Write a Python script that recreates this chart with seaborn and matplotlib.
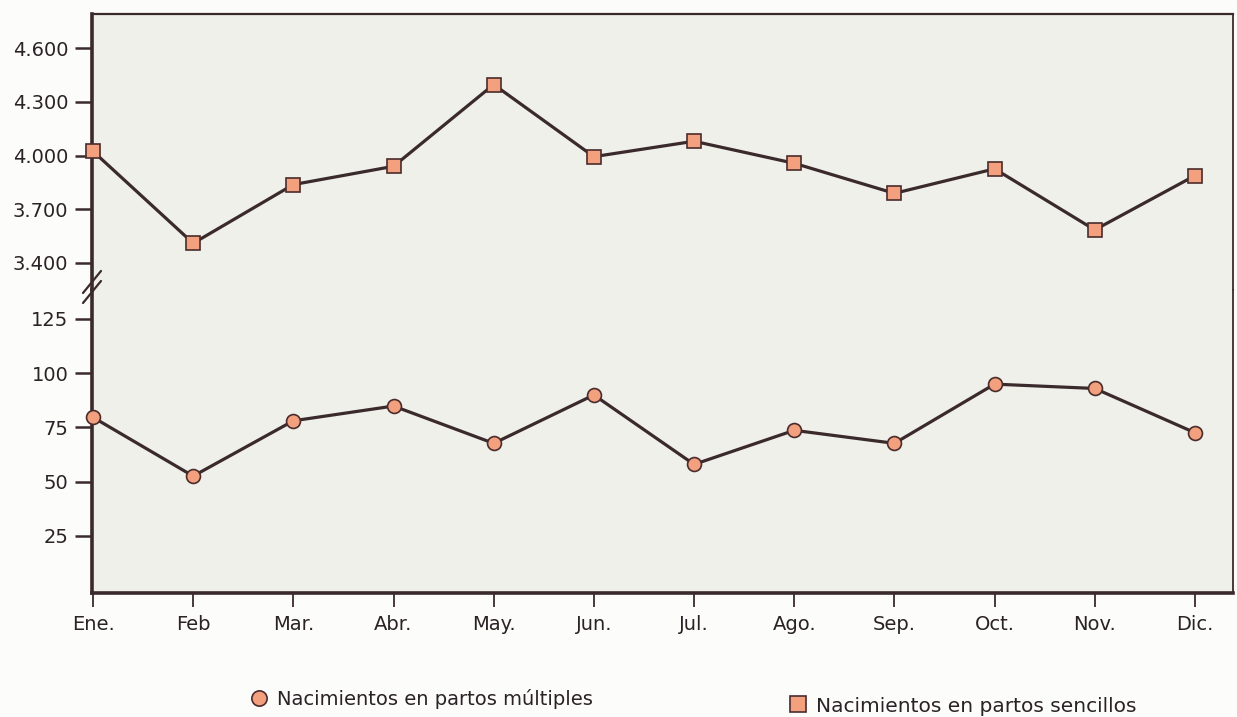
import matplotlib
matplotlib.use("Agg")
import matplotlib.pyplot as plt
from matplotlib.lines import Line2D
import seaborn as sns
import pandas as pd
import numpy as np

months = ["Ene.", "Feb", "Mar.", "Abr.", "May.", "Jun.", "Jul.", "Ago.", "Sep.", "Oct.", "Nov.", "Dic."]
sencillos = [4024, 3510, 3838, 3940, 4397, 3994, 4080, 3957, 3789, 3926, 3585, 3888]
multiples = [79.6, 52.5, 78.0, 84.8, 67.6, 89.9, 57.9, 73.6, 67.6, 94.9, 92.9, 72.5]
upper_ticks = [3400, 3700, 4000, 4300, 4600]
upper_labels = ["3.400", "3.700", "4.000", "4.300", "4.600"]
lower_ticks = [25, 50, 75, 100, 125]
lower_labels = ["25", "50", "75", "100", "125"]
legend_multiples = "Nacimientos en partos múltiples"
legend_sencillos = "Nacimientos en partos sencillos"

sns.set_theme(style="white")
plt.rcParams['font.family'] = ['DejaVu Sans']

LINE = "#3b2a2c"
FILL = "#f2a07e"
BG = "#f0f0eb"
TXT = "#2a2226"

df = pd.DataFrame({"x": np.arange(len(months)), "mes": months,
                   "sencillos": sencillos, "multiples": multiples})

W, H = 1237, 717
fig = plt.figure(figsize=(W / 100, H / 100), dpi=100)
fig.patch.set_facecolor("#fcfcfa")

left, right = 92 / W, 1233 / W
top_px, break_px, bot_px = 14, 290, 593
ax_u = fig.add_axes([left, 1 - break_px / H, right - left, (break_px - top_px) / H])
ax_l = fig.add_axes([left, 1 - bot_px / H, right - left, (bot_px - break_px) / H])

for ax in (ax_u, ax_l):
    ax.set_facecolor(BG)
    ax.set_xlim(-0.01, 11.38)

sns.lineplot(data=df, x="x", y="sencillos", ax=ax_u, color=LINE, linewidth=2.3,
             marker="s", markersize=9.5, markerfacecolor=FILL, markeredgecolor="#4a2c2c",
             markeredgewidth=1.2, clip_on=False, zorder=5)
sns.lineplot(data=df, x="x", y="multiples", ax=ax_l, color=LINE, linewidth=2.3,
             marker="o", markersize=10, markerfacecolor=FILL, markeredgecolor="#4a2c2c",
             markeredgewidth=1.2, clip_on=False, zorder=5)

ax_u.set_ylim(3249, 4791)
ax_l.set_ylim(-1.4, 138.3)

ax_u.set_yticks(upper_ticks)
ax_u.set_yticklabels(upper_labels)
ax_l.set_yticks(lower_ticks)
ax_l.set_yticklabels(lower_labels)

ax_u.set_xticks([])
ax_l.set_xticks(df["x"])
ax_l.set_xticklabels(months)

for ax in (ax_u, ax_l):
    ax.set_xlabel("")
    ax.set_ylabel("")
    ax.tick_params(axis="y", direction="out", length=12, width=1.8, color=LINE,
                   labelsize=14, labelcolor=TXT, pad=5, left=True)
    ax.spines["left"].set_linewidth(2.6)
    ax.spines["left"].set_color(LINE)
    ax.spines["right"].set_linewidth(1.3)
    ax.spines["right"].set_color(LINE)

ax_l.tick_params(axis="x", direction="out", length=10, width=1.3, color=LINE,
                 labelsize=14, labelcolor=TXT, pad=6, bottom=True)

ax_u.spines["bottom"].set_visible(False)
ax_u.spines["top"].set_linewidth(1.6)
ax_u.spines["top"].set_color(LINE)
ax_l.spines["top"].set_visible(False)
ax_l.spines["bottom"].set_linewidth(2.6)
ax_l.spines["bottom"].set_color(LINE)

# axis break marks on the left spine
for dy in (-5, 5):
    yc = 1 - (break_px - 3 + dy) / H
    fig.add_artist(Line2D([left - 9 / W, left + 9 / W],
                          [yc - 11 / H, yc + 11 / H], color=LINE, linewidth=1.6))

h1 = Line2D([], [], linestyle="none", marker="o", markersize=11,
            markerfacecolor=FILL, markeredgecolor="#4a2c2c", markeredgewidth=1.2)
h2 = Line2D([], [], linestyle="none", marker="s", markersize=11,
            markerfacecolor=FILL, markeredgecolor="#4a2c2c", markeredgewidth=1.2)
leg1 = fig.legend([h1], [legend_multiples], loc="center left",
                  bbox_to_anchor=(232 / W, 1 - 699 / H), frameon=False,
                  fontsize=14, handletextpad=0.4, handlelength=1.0)
leg2 = fig.legend([h2], [legend_sencillos], loc="center left",
                  bbox_to_anchor=(770 / W, 1 - 706 / H), frameon=False,
                  fontsize=14.5, handletextpad=0.4, handlelength=1.0)
for leg in (leg1, leg2):
    for t in leg.get_texts():
        t.set_color(TXT)

fig.savefig("out.png", dpi=100, facecolor=fig.get_facecolor())
